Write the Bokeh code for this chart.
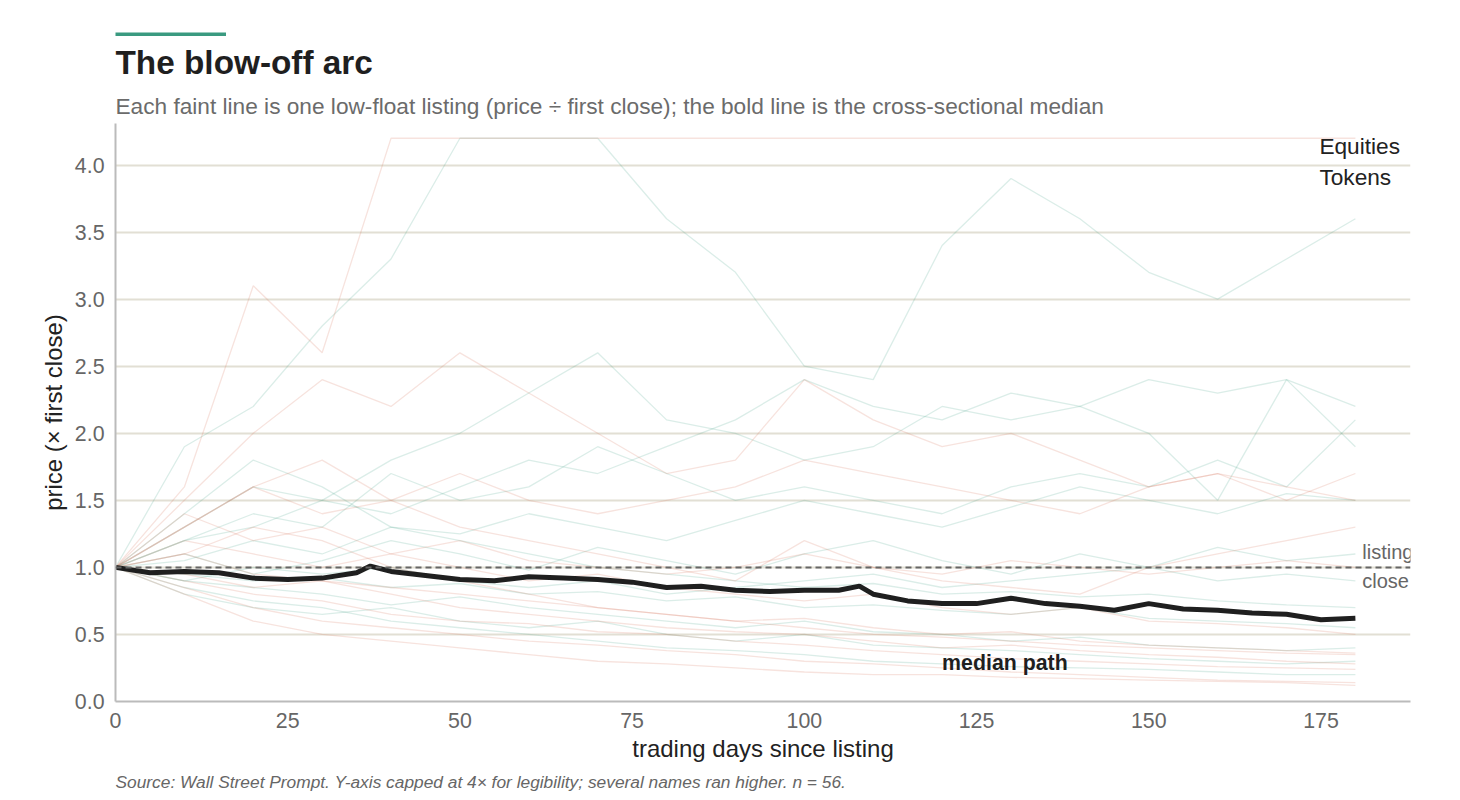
from bokeh.plotting import figure
from bokeh.models import Title, Legend, LegendItem, Label, Span, Spacer, NumeralTickFormatter
from bokeh.layouts import column, row
from bokeh.embed import file_html
from bokeh.resources import INLINE

days = list(range(0, 181, 10))
equities = [
    [1, 1.9, 2.2, 2.8, 3.3, 4.2, 4.2, 4.2, 3.6, 3.2, 2.5, 2.4, 3.4, 3.9, 3.6, 3.2, 3.0, 3.3, 3.6],
    [1, 1.3, 1.6, 1.5, 1.8, 2.0, 2.3, 2.6, 2.1, 2.0, 1.8, 1.9, 2.2, 2.1, 2.2, 2.0, 1.5, 2.4, 1.9],
    [1, 1.2, 1.4, 1.3, 1.7, 1.5, 1.6, 1.9, 1.7, 1.5, 1.6, 1.5, 1.4, 1.6, 1.7, 1.6, 1.8, 1.6, 2.1],
    [1, 1.1, 0.95, 1.05, 1.2, 1.1, 0.98, 1.15, 1.05, 0.95, 1.1, 1.2, 1.05, 0.95, 1.1, 1.0, 1.15, 1.05, 1.1],
    [1, 0.9, 0.85, 0.8, 0.72, 0.78, 0.7, 0.65, 0.6, 0.55, 0.6, 0.52, 0.5, 0.45, 0.48, 0.42, 0.4, 0.38, 0.4],
    [1, 0.85, 0.75, 0.7, 0.6, 0.55, 0.5, 0.45, 0.4, 0.38, 0.35, 0.3, 0.28, 0.26, 0.25, 0.24, 0.22, 0.2, 0.2],
    [1, 1.05, 1.2, 1.1, 1.3, 1.25, 1.4, 1.3, 1.2, 1.35, 1.5, 1.4, 1.3, 1.45, 1.6, 1.5, 1.4, 1.55, 1.5],
    [1, 0.95, 0.9, 0.92, 0.85, 0.88, 0.8, 0.82, 0.75, 0.78, 0.7, 0.72, 0.68, 0.65, 0.7, 0.62, 0.6, 0.58, 0.55],
    [1, 1.4, 1.8, 1.6, 1.3, 1.2, 1.1, 1.0, 0.95, 0.9, 0.85, 0.88, 0.8, 0.82, 0.78, 0.8, 0.75, 0.72, 0.7],
    [1, 0.8, 0.7, 0.65, 0.7, 0.6, 0.55, 0.6, 0.5, 0.45, 0.5, 0.42, 0.4, 0.38, 0.35, 0.32, 0.3, 0.28, 0.3],
    [1, 1.2, 1.3, 1.5, 1.4, 1.6, 1.8, 1.7, 1.9, 2.1, 2.4, 2.2, 2.1, 2.3, 2.2, 2.4, 2.3, 2.4, 2.2],
    [1, 0.9, 1.0, 0.95, 1.0, 0.9, 0.85, 0.9, 0.8, 0.85, 0.9, 0.95, 0.85, 0.9, 0.95, 1.0, 0.9, 0.95, 0.9],
]
tokens = [
    [1, 1.6, 3.1, 2.6, 4.2, 4.2, 4.2, 4.2, 4.2, 4.2, 4.2, 4.2, 4.2, 4.2, 4.2, 4.2, 4.2, 4.2, 4.2],
    [1, 1.5, 2.0, 2.4, 2.2, 2.6, 2.3, 2.0, 1.7, 1.8, 2.4, 2.1, 1.9, 2.0, 1.8, 1.6, 1.7, 1.6, 1.5],
    [1, 1.3, 1.6, 1.4, 1.5, 1.7, 1.5, 1.4, 1.5, 1.6, 1.8, 1.7, 1.6, 1.5, 1.4, 1.6, 1.7, 1.5, 1.7],
    [1, 0.85, 0.7, 0.6, 0.55, 0.5, 0.45, 0.42, 0.38, 0.35, 0.3, 0.28, 0.25, 0.22, 0.2, 0.18, 0.16, 0.15, 0.14],
    [1, 0.9, 0.8, 0.75, 0.65, 0.6, 0.58, 0.52, 0.5, 0.45, 0.42, 0.38, 0.35, 0.32, 0.3, 0.28, 0.26, 0.25, 0.24],
    [1, 1.1, 0.95, 0.9, 0.85, 0.8, 0.75, 0.7, 0.65, 0.6, 0.55, 0.5, 0.48, 0.45, 0.42, 0.4, 0.38, 0.36, 0.35],
    [1, 1.2, 1.1, 1.0, 1.1, 1.2, 1.05, 1.0, 0.95, 1.0, 1.1, 1.0, 0.95, 1.05, 1.0, 0.95, 1.0, 1.05, 1.0],
    [1, 0.8, 0.6, 0.5, 0.45, 0.4, 0.35, 0.3, 0.28, 0.25, 0.22, 0.2, 0.2, 0.18, 0.17, 0.16, 0.15, 0.14, 0.12],
    [1, 1.4, 1.2, 1.3, 1.1, 1.0, 0.9, 0.95, 0.85, 0.8, 0.75, 0.8, 0.7, 0.65, 0.7, 0.6, 0.58, 0.55, 0.5],
    [1, 0.95, 0.85, 0.9, 0.8, 0.7, 0.65, 0.6, 0.55, 0.52, 0.5, 0.45, 0.4, 0.42, 0.38, 0.35, 0.33, 0.3, 0.28],
    [1, 1.1, 1.3, 1.2, 1.0, 0.9, 0.8, 0.7, 0.65, 0.6, 0.62, 0.55, 0.5, 0.52, 0.45, 0.42, 0.4, 0.38, 0.36],
    [1, 1.3, 1.6, 1.8, 1.5, 1.3, 1.2, 1.1, 1.0, 0.9, 1.2, 1.0, 0.9, 0.85, 0.8, 1.0, 1.1, 1.2, 1.3],
]
median_days = [0, 5, 10, 15, 20, 25, 30, 35, 37, 40, 45, 50, 55, 60, 65, 70, 75, 80, 85, 90, 95, 100,
               105, 108, 110, 115, 120, 125, 130, 135, 140, 145, 150, 155, 160, 165, 170, 175, 180]
median_vals = [1.0, 0.96, 0.97, 0.96, 0.92, 0.91, 0.92, 0.96, 1.01, 0.97, 0.94, 0.91, 0.90, 0.93, 0.92,
               0.91, 0.89, 0.85, 0.86, 0.83, 0.82, 0.83, 0.83, 0.86, 0.80, 0.75, 0.73, 0.73, 0.77, 0.73,
               0.71, 0.68, 0.73, 0.69, 0.68, 0.66, 0.65, 0.61, 0.62]
y_ticks = [0, 0.5, 1.0, 1.5, 2.0, 2.5, 3.0, 3.5, 4.0]
x_ticks = [0, 25, 50, 75, 100, 125, 150, 175]

EQ = "#3a9a80"
TK = "#d9735a"
FONT = "Liberation Sans"

p = figure(width=1444, height=760, output_backend="svg", toolbar_location=None,
           x_range=(0, 188), y_range=(0, 4.31), min_border_left=115, min_border_right=34,
           min_border_top=10, min_border_bottom=10)
p.outline_line_color = None
p.background_fill_color = "white"

for s in equities:
    p.line(days, s, line_color=EQ, line_alpha=0.18, line_width=1.3)
for s in tokens:
    p.line(days, s, line_color=TK, line_alpha=0.2, line_width=1.3)

p.add_layout(Span(location=1.0, dimension="width", line_color="#666666", line_dash="6 4", line_width=2))
p.line(median_days, median_vals, line_color="#1f1f1f", line_width=5)

le = p.line([], [], line_color=EQ, line_alpha=0.55, line_width=4)
lt = p.line([], [], line_color=TK, line_alpha=0.75, line_width=4)
leg = Legend(items=[LegendItem(label="Equities", renderers=[le]), LegendItem(label="Tokens", renderers=[lt])],
             location="top_right", border_line_color=None, background_fill_alpha=0,
             label_text_font=FONT, label_text_font_size="17pt", label_text_color="#222222", glyph_width=55,
             spacing=4)
p.add_layout(leg)

p.add_layout(Label(x=181, y=1.03, text="listing", text_font=FONT, text_font_size="15pt", text_color="#666666"))
p.add_layout(Label(x=181, y=0.82, text="close", text_font=FONT, text_font_size="15pt", text_color="#666666"))
p.add_layout(Label(x=120, y=0.2, text="median path", text_font=FONT, text_font_size="16pt",
                   text_font_style="bold", text_color="#1f1f1f"))

p.xgrid.grid_line_color = None
p.ygrid.grid_line_color = "#e2dfd4"
p.ygrid.grid_line_width = 2
p.yaxis.ticker = y_ticks
p.xaxis.ticker = x_ticks
p.yaxis.formatter = NumeralTickFormatter(format="0.0")
for ax in (p.xaxis, p.yaxis):
    ax.axis_line_color = "#bbbbbb"
    ax.axis_line_width = 2
    ax.major_tick_line_color = None
    ax.minor_tick_line_color = None
    ax.major_label_text_font = FONT
    ax.major_label_text_font_size = "16pt"
    ax.major_label_text_color = "#666666"
    ax.axis_label_text_font = FONT
    ax.axis_label_text_font_size = "18pt"
    ax.axis_label_text_font_style = "normal"
    ax.axis_label_text_color = "#222222"
p.xaxis.axis_label = "trading days since listing"
p.yaxis.axis_label = "price (× first close)"
p.xaxis.axis_label_standoff = 4

p.add_layout(Title(text="Source: Wall Street Prompt. Y-axis capped at 4× for legibility; several names ran higher. n = 56.",
                   text_font=FONT, text_font_size="13pt", text_font_style="italic", text_color="#666666",
                   offset=0), "below")
p.add_layout(Title(text="Each faint line is one low-float listing (price ÷ first close); the bold line is the cross-sectional median",
                   text_font=FONT, text_font_size="17pt", text_font_style="normal", text_color="#6b6b6b"), "above")
p.add_layout(Title(text="The blow-off arc", text_font=FONT, text_font_size="25pt", text_font_style="bold",
                   text_color="#1f1f1f"), "above")

bar = figure(width=111, height=8, output_backend="svg", toolbar_location=None, min_border=0,
             background_fill_color="#3a9a80", border_fill_color="#3a9a80")
bar.axis.visible = False
bar.grid.visible = False
bar.outline_line_color = None

layout = column(Spacer(height=28), row(Spacer(width=115), bar), p, spacing=0)
open("out.html", "w").write(file_html(layout, INLINE))
